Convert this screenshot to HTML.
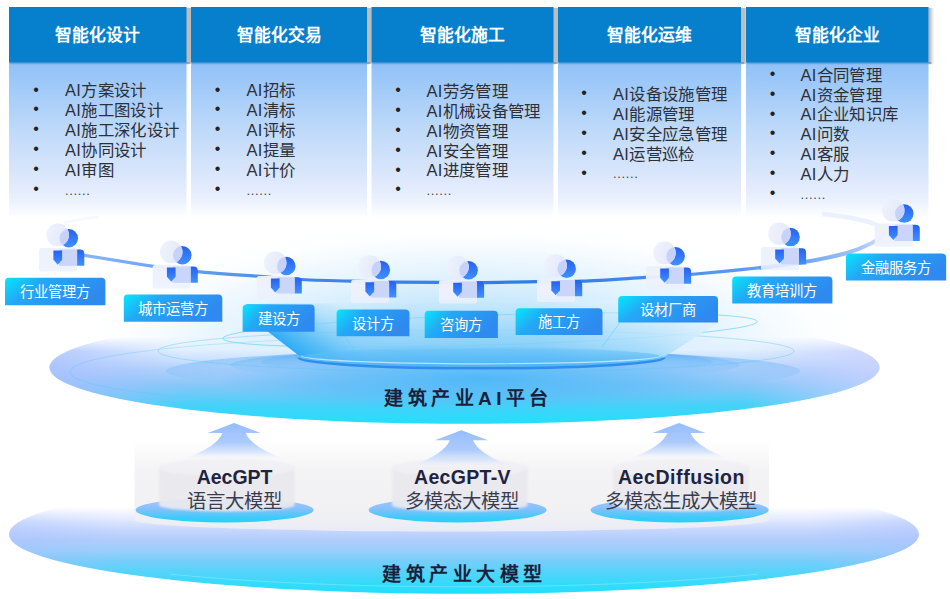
<!DOCTYPE html>
<html lang="zh-CN">
<head>
<meta charset="utf-8">
<title>建筑产业AI平台</title>
<style>
html,body{margin:0;padding:0;background:#fff;}
body{width:950px;height:599px;position:relative;overflow:hidden;font-family:"Liberation Sans",sans-serif;}
#stage{position:absolute;left:0;top:0;width:950px;height:599px;overflow:hidden;}
svg{position:absolute;left:0;top:0;}
.t{position:absolute;white-space:nowrap;}
.hd{color:#fff;font-weight:bold;font-size:16.8px;text-align:center;line-height:20px;height:20px;}
.li{color:#2e3038;font-size:16.45px;letter-spacing:0.33px;line-height:20px;height:20px;}
.bu{color:#222;font-size:16px;line-height:20px;height:20px;width:10px;text-align:center;}
.lb{color:#fff;font-size:14.3px;text-align:center;line-height:20px;height:20px;}
.big{color:#1b1f3a;font-weight:bold;font-size:19px;letter-spacing:4.45px;line-height:24px;height:24px;text-align:center;}
.m1{color:#1f2340;font-weight:bold;font-size:19.5px;line-height:24px;height:24px;text-align:center;}
.m2{color:#3b3d4e;font-size:19.4px;line-height:24px;height:24px;text-align:center;}
</style>
</head>
<body>
<div id="stage">
<svg width="950" height="599" viewBox="0 0 950 599">
<defs>
  <linearGradient id="gBody" x1="0" y1="0" x2="0" y2="1">
    <stop offset="0" stop-color="#8fc1f8"/>
    <stop offset="0.45" stop-color="#c0dafa"/>
    <stop offset="0.76" stop-color="#dde8fc"/>
    <stop offset="0.9" stop-color="#ecf2fd"/>
    <stop offset="1" stop-color="#fdfeff"/>
  </linearGradient>
  <linearGradient id="gShadow" x1="0" y1="0" x2="1" y2="0">
    <stop offset="0" stop-color="#bdbdbd" stop-opacity="1"/>
    <stop offset="0.72" stop-color="#bdbdbd" stop-opacity="1"/>
    <stop offset="1" stop-color="#c8c8c8" stop-opacity="0"/>
  </linearGradient>
  <linearGradient id="gShadowLast" x1="0" y1="0" x2="1" y2="0">
    <stop offset="0" stop-color="#9a9a9a" stop-opacity="0.9"/>
    <stop offset="0.5" stop-color="#b5b5b5" stop-opacity="0.5"/>
    <stop offset="1" stop-color="#c8c8c8" stop-opacity="0"/>
  </linearGradient>
  <linearGradient id="gShadowB" x1="0" y1="0" x2="0" y2="1">
    <stop offset="0" stop-color="#2f66a6" stop-opacity="0.6"/>
    <stop offset="1" stop-color="#2f66a6" stop-opacity="0"/>
  </linearGradient>

  <!-- platform ellipse -->
  <linearGradient id="gPlatV" x1="0" y1="0" x2="0" y2="1">
    <stop offset="0" stop-color="#e8f3ff"/>
    <stop offset="0.345" stop-color="#e0effe"/>
    <stop offset="0.433" stop-color="#cbe0fd"/>
    <stop offset="0.52" stop-color="#b0d1fc"/>
    <stop offset="0.655" stop-color="#88c7f9"/>
    <stop offset="0.744" stop-color="#6acaf8"/>
    <stop offset="0.84" stop-color="#44d2f9"/>
    <stop offset="1" stop-color="#24defb"/>
  </linearGradient>
  <linearGradient id="gPlatMask" gradientUnits="userSpaceOnUse" x1="0" y1="337" x2="0" y2="351">
    <stop offset="0" stop-color="#fff" stop-opacity="0"/>
    <stop offset="0.5" stop-color="#fff" stop-opacity="0.55"/>
    <stop offset="1" stop-color="#fff" stop-opacity="1"/>
  </linearGradient>
  <mask id="mPlat" maskUnits="userSpaceOnUse" x="0" y="300" width="950" height="140">
    <rect x="0" y="305" width="950" height="125" fill="url(#gPlatMask)"/>
  </mask>
  <linearGradient id="gRingC" gradientUnits="userSpaceOnUse" x1="70" y1="0" x2="470" y2="0">
    <stop offset="0" stop-color="#58c6f5" stop-opacity="1"/>
    <stop offset="0.6" stop-color="#58c6f5" stop-opacity="0.6"/>
    <stop offset="1" stop-color="#58c6f5" stop-opacity="0"/>
  </linearGradient>
  <linearGradient id="gBase" x1="0" y1="0" x2="0" y2="1">
    <stop offset="0" stop-color="#6cc4f8" stop-opacity="0.3"/>
    <stop offset="0.5" stop-color="#58baf7" stop-opacity="0.7"/>
    <stop offset="1" stop-color="#48b2f6" stop-opacity="0.9"/>
  </linearGradient>
  <linearGradient id="gBeamR" gradientUnits="userSpaceOnUse" x1="540" y1="0" x2="715" y2="0">
    <stop offset="0" stop-color="#eef8ff" stop-opacity="0"/>
    <stop offset="0.6" stop-color="#eef8ff" stop-opacity="0.35"/>
    <stop offset="1" stop-color="#f2f9ff" stop-opacity="0.7"/>
  </linearGradient>
  <radialGradient id="gHaze" cx="0.5" cy="0.5" r="0.5">
    <stop offset="0" stop-color="#a6dbfa" stop-opacity="0.95"/>
    <stop offset="0.35" stop-color="#bbe3fb" stop-opacity="0.8"/>
    <stop offset="0.7" stop-color="#d8eefd" stop-opacity="0.45"/>
    <stop offset="1" stop-color="#ffffff" stop-opacity="0"/>
  </radialGradient>
  <radialGradient id="gCenterBlue" cx="0.5" cy="0.5" r="0.5">
    <stop offset="0" stop-color="#46b6f7" stop-opacity="0.88"/>
    <stop offset="0.6" stop-color="#4cbaf7" stop-opacity="0.5"/>
    <stop offset="1" stop-color="#50bcf7" stop-opacity="0"/>
  </radialGradient>
  <linearGradient id="gBeamL" gradientUnits="userSpaceOnUse" x1="284" y1="344" x2="325" y2="291">
    <stop offset="0" stop-color="#2eacf6" stop-opacity="1"/>
    <stop offset="0.3" stop-color="#48b7f7" stop-opacity="0.72"/>
    <stop offset="0.7" stop-color="#7fcdf9" stop-opacity="0.25"/>
    <stop offset="1" stop-color="#7fcdf9" stop-opacity="0"/>
  </linearGradient>
  <linearGradient id="gPlatH" x1="0" y1="0" x2="1" y2="0">
    <stop offset="0" stop-color="#a9bfff" stop-opacity="0.75"/>
    <stop offset="0.16" stop-color="#a9bfff" stop-opacity="0"/>
    <stop offset="0.84" stop-color="#c4ceff" stop-opacity="0"/>
    <stop offset="1" stop-color="#c9d2ff" stop-opacity="0.8"/>
  </linearGradient>
  <radialGradient id="gRingFill" cx="0.5" cy="0.95" r="0.95">
    <stop offset="0" stop-color="#45a2f3" stop-opacity="0"/>
    <stop offset="0.5" stop-color="#45a2f3" stop-opacity="0.03"/>
    <stop offset="0.72" stop-color="#45a6f4" stop-opacity="0.18"/>
    <stop offset="1" stop-color="#3fa2f4" stop-opacity="0.46"/>
  </radialGradient>
  <linearGradient id="gBeam" gradientUnits="userSpaceOnUse" x1="0" y1="300" x2="0" y2="368">
    <stop offset="0" stop-color="#b5e1fb" stop-opacity="0"/>
    <stop offset="0.4" stop-color="#9bd7fa" stop-opacity="0.65"/>
    <stop offset="0.75" stop-color="#74c8f8" stop-opacity="0.9"/>
    <stop offset="1" stop-color="#62bff7" stop-opacity="0.95"/>
  </linearGradient>
  <radialGradient id="gGlow" cx="0.5" cy="0.5" r="0.5">
    <stop offset="0" stop-color="#d8f1ff" stop-opacity="1"/>
    <stop offset="0.6" stop-color="#e6f5ff" stop-opacity="0.7"/>
    <stop offset="1" stop-color="#ffffff" stop-opacity="0"/>
  </radialGradient>

  <!-- bottom ellipse -->
  <linearGradient id="gBotMask" gradientUnits="userSpaceOnUse" x1="0" y1="507" x2="0" y2="521">
    <stop offset="0" stop-color="#fff" stop-opacity="0"/>
    <stop offset="0.5" stop-color="#fff" stop-opacity="0.55"/>
    <stop offset="1" stop-color="#fff" stop-opacity="1"/>
  </linearGradient>
  <mask id="mBot" maskUnits="userSpaceOnUse" x="0" y="470" width="950" height="130">
    <rect x="0" y="470" width="950" height="130" fill="url(#gBotMask)"/>
  </mask>
  <linearGradient id="gBotH" x1="0" y1="0" x2="1" y2="0">
    <stop offset="0" stop-color="#a8c0ff" stop-opacity="0.4"/>
    <stop offset="0.12" stop-color="#a8c0ff" stop-opacity="0"/>
    <stop offset="0.88" stop-color="#a8c0ff" stop-opacity="0"/>
    <stop offset="1" stop-color="#a8c0ff" stop-opacity="0.45"/>
  </linearGradient>
  <linearGradient id="gBotV" x1="0" y1="0" x2="0" y2="1">
    <stop offset="0" stop-color="#e8eeff"/>
    <stop offset="0.38" stop-color="#e0e8fe"/>
    <stop offset="0.464" stop-color="#c6d6fe"/>
    <stop offset="0.548" stop-color="#b0ccfc"/>
    <stop offset="0.632" stop-color="#9ccefb"/>
    <stop offset="0.716" stop-color="#79cdfa"/>
    <stop offset="0.80" stop-color="#5bd2fa"/>
    <stop offset="0.90" stop-color="#38dafb"/>
    <stop offset="1" stop-color="#1fe0fc"/>
  </linearGradient>

  <!-- labels -->
  <linearGradient id="gLabel" x1="0" y1="0" x2="1" y2="0.35">
    <stop offset="0" stop-color="#06e6fb"/>
    <stop offset="0.35" stop-color="#24a8f6"/>
    <stop offset="1" stop-color="#2e8af0"/>
  </linearGradient>

  <!-- curve -->
  <linearGradient id="gCurve" gradientUnits="userSpaceOnUse" x1="60" y1="0" x2="890" y2="0">
    <stop offset="0" stop-color="#8fbcf9"/>
    <stop offset="0.12" stop-color="#6ba4f4"/>
    <stop offset="0.3" stop-color="#3d86ec"/>
    <stop offset="0.6" stop-color="#2f7ce8"/>
    <stop offset="0.82" stop-color="#5b9af2"/>
    <stop offset="0.93" stop-color="#8db9f7"/>
    <stop offset="1" stop-color="#c5dbfb"/>
  </linearGradient>

  <linearGradient id="gCurveR" gradientUnits="userSpaceOnUse" x1="780" y1="0" x2="886" y2="0">
    <stop offset="0" stop-color="#5b9af2"/>
    <stop offset="0.3" stop-color="#76abf4"/>
    <stop offset="0.75" stop-color="#a3c5f8"/>
    <stop offset="1" stop-color="#d3e2fb"/>
  </linearGradient>
  <!-- icon -->
  <linearGradient id="gIcBlue" x1="0" y1="0" x2="0" y2="1">
    <stop offset="0" stop-color="#2760f0"/>
    <stop offset="1" stop-color="#3f92ff"/>
  </linearGradient>
  <clipPath id="cHead"><circle cx="18.6" cy="-13.2" r="11.3"/></clipPath>
  <clipPath id="cBody"><rect x="0" y="0" width="38" height="23.3" rx="2.6"/></clipPath>
  <linearGradient id="gIcLight" x1="0" y1="0" x2="0" y2="1">
    <stop offset="0" stop-color="#eef1fc" stop-opacity="0.97"/>
    <stop offset="0.7" stop-color="#edf1fc" stop-opacity="0.95"/>
    <stop offset="1" stop-color="#eaf1fc" stop-opacity="0.8"/>
  </linearGradient>
  <linearGradient id="gIcHead" x1="0" y1="0" x2="1" y2="0.3">
    <stop offset="0" stop-color="#f0f3fd" stop-opacity="0.97"/>
    <stop offset="1" stop-color="#e3e8fa" stop-opacity="0.97"/>
  </linearGradient>
  <g id="icon">
    <circle cx="29.7" cy="-9.9" r="9.25" fill="url(#gIcBlue)"/>
    <path d="M20 1.3 H41 Q45.2 1.3 45.2 5.5 V17.6 H20 Z" fill="url(#gIcBlue)"/>
    <circle cx="18.6" cy="-13.2" r="11.3" fill="url(#gIcHead)"/>
    <circle cx="29.7" cy="-9.9" r="9.25" fill="#c6d2f9" clip-path="url(#cHead)"/>
    <rect x="0" y="0" width="38" height="23.3" rx="2.6" fill="url(#gIcLight)"/>
    <path d="M20 1.3 H41 Q45.2 1.3 45.2 5.5 V17.6 H20 Z" fill="#c9d5f9" clip-path="url(#cBody)"/>
    <path d="M14.3 2.5 H23 V11.6 L18.65 16.6 L14.3 11.6 Z" fill="url(#gIcBlue)"/>
  </g>

  <!-- arrow -->
  <linearGradient id="gArrow" x1="0" y1="0" x2="0" y2="1">
    <stop offset="0" stop-color="#94bdfd"/>
    <stop offset="0.55" stop-color="#a8c8fc" stop-opacity="0.95"/>
    <stop offset="0.82" stop-color="#c4d9fd" stop-opacity="0.6"/>
    <stop offset="1" stop-color="#e6eeff" stop-opacity="0"/>
  </linearGradient>
  <g id="arrow">
    <path d="M0 0 L26.5 10 L11.6 10 Q17 23.8 50 35.8 L-50 35.8 Q-17 23.8 -11.6 10 L-26.5 10 Z" fill="url(#gArrow)"/>
  </g>

  <!-- small ellipse -->
  <linearGradient id="gSmall" x1="0" y1="0" x2="0" y2="1">
    <stop offset="0" stop-color="#a9c6fe"/>
    <stop offset="0.45" stop-color="#86c0fb"/>
    <stop offset="0.8" stop-color="#3fcaf9"/>
    <stop offset="1" stop-color="#20d4f9"/>
  </linearGradient>
  <linearGradient id="gBoxOuter" gradientUnits="userSpaceOnUse" x1="0" y1="434" x2="0" y2="532">
    <stop offset="0.06" stop-color="#f4f4f6" stop-opacity="0"/>
    <stop offset="0.21" stop-color="#f3f3f5" stop-opacity="0.45"/>
    <stop offset="0.37" stop-color="#f2f2f4" stop-opacity="0.9"/>
    <stop offset="0.85" stop-color="#f0f0f3" stop-opacity="0.93"/>
    <stop offset="1" stop-color="#edeff5" stop-opacity="0.88"/>
  </linearGradient>
  <linearGradient id="gBoxInner" x1="0" y1="0" x2="0" y2="1">
    <stop offset="0" stop-color="#ebebee" stop-opacity="0"/>
    <stop offset="0.3" stop-color="#eaeaed" stop-opacity="0.92"/>
    <stop offset="1" stop-color="#e9e9ee" stop-opacity="0.92"/>
  </linearGradient>
  <filter id="hdrShadow" x="-5%" y="-15%" width="112%" height="135%"><feDropShadow dx="2" dy="0.6" stdDeviation="1.7" flood-color="#000" flood-opacity="0.5"/></filter>
  <filter id="blur1" x="-10%" y="-10%" width="120%" height="120%"><feGaussianBlur stdDeviation="1.2"/></filter>
  <filter id="blur2" x="-10%" y="-10%" width="120%" height="120%"><feGaussianBlur stdDeviation="1.8"/></filter>
  <filter id="blur6" x="-20%" y="-20%" width="140%" height="140%"><feGaussianBlur stdDeviation="6"/></filter>
</defs>

<rect x="9.0" y="62" width="177.5" height="155.0" fill="url(#gBody)"/>
<rect x="185.5" y="7.8" width="7" height="56.1" fill="url(#gShadow)"/>
<rect x="10.0" y="62.3" width="179.5" height="2.6" fill="url(#gShadowB)"/>
<rect x="9.0" y="7.0" width="177.5" height="55.5" fill="#0680cd"/>
<rect x="191.0" y="62" width="176.0" height="155.0" fill="url(#gBody)"/>
<rect x="366.0" y="7.8" width="7" height="56.1" fill="url(#gShadow)"/>
<rect x="192.0" y="62.3" width="178.0" height="2.6" fill="url(#gShadowB)"/>
<rect x="191.0" y="7.0" width="176.0" height="55.5" fill="#0680cd"/>
<rect x="371.5" y="62" width="182.0" height="155.0" fill="url(#gBody)"/>
<rect x="552.5" y="7.8" width="7" height="56.1" fill="url(#gShadow)"/>
<rect x="372.5" y="62.3" width="184.0" height="2.6" fill="url(#gShadowB)"/>
<rect x="371.5" y="7.0" width="182.0" height="55.5" fill="#0680cd"/>
<rect x="558.0" y="62" width="183.0" height="155.0" fill="url(#gBody)"/>
<rect x="740.0" y="7.8" width="7" height="56.1" fill="url(#gShadow)"/>
<rect x="559.0" y="62.3" width="185.0" height="2.6" fill="url(#gShadowB)"/>
<rect x="558.0" y="7.0" width="183.0" height="55.5" fill="#0680cd"/>
<rect x="746.0" y="62" width="182.5" height="155.0" fill="url(#gBody)"/>
<rect x="928.5" y="7.8" width="6" height="56.1" fill="url(#gShadowLast)"/>
<rect x="747.0" y="62.3" width="184.5" height="2.6" fill="url(#gShadowB)"/>
<rect x="746.0" y="7.0" width="182.5" height="55.5" fill="#0680cd"/>
<clipPath id="cHaze"><rect x="0" y="0" width="950" height="367"/><ellipse cx="464.5" cy="367.5" rx="414" ry="55.3"/></clipPath>
<ellipse cx="472" cy="345" rx="400" ry="125" fill="url(#gHaze)" clip-path="url(#cHaze)"/>
<g mask="url(#mPlat)">
<ellipse cx="464.5" cy="367.5" rx="415.0" ry="56.3" fill="url(#gPlatV)"/>
<ellipse cx="464.5" cy="367.5" rx="415.0" ry="56.3" fill="url(#gPlatH)"/>
<ellipse cx="481" cy="379" rx="265" ry="32" fill="url(#gCenterBlue)"/>
</g>
<ellipse cx="483" cy="371" rx="317" ry="21" fill="url(#gRingFill)"/>
<ellipse cx="485" cy="365" rx="255" ry="16" fill="url(#gRingFill)"/>
<ellipse cx="487" cy="362" rx="226" ry="13" fill="url(#gRingFill)"/>
<path d="M470 336 A400 36 0 0 0 470 408" fill="none" stroke="url(#gRingC)" stroke-width="0.8" opacity="0.5"/>
<ellipse cx="476" cy="351" rx="318" ry="21" fill="none" stroke="#58c6f5" stroke-width="0.8" opacity="0.5"/>
<ellipse cx="490" cy="330" rx="267.5" ry="15" transform="rotate(-1.8 490 330)" fill="none" stroke="#4cc6f6" stroke-width="0.9" opacity="0.6"/>
<path d="M246 304 L268.4 332 L299.5 356 A183 10.5 0 0 0 664 357 L718 322.5 L718 300 Z" fill="url(#gBeam)"/>
<path d="M246 304 L268.4 332 L299.5 356 A183 10.5 0 0 0 664 357 L718 322.5 L718 300 Z" fill="url(#gBeamL)"/>
<path d="M246 304 L268.4 332 L299.5 356 A183 10.5 0 0 0 664 357 L718 322.5 L718 300 Z" fill="url(#gBeamR)"/>
<path d="M344.7 336 L360.5 359" stroke="#5fd0f8" stroke-width="0.8" opacity="0.7"/>
<path d="M620 322.6 L602 347" stroke="#5fd0f8" stroke-width="0.8" opacity="0.7"/>
<ellipse cx="481.5" cy="357.5" rx="182" ry="10.5" fill="url(#gBase)"/>
<path d="M298.5 357.5 A182.5 10.8 0 0 0 664.5 357.5" fill="none" stroke="#2a8af0" stroke-width="2.5" opacity="0.95"/>
<path d="M301 355.5 A180 8.3 0 0 0 661 355.5" fill="none" stroke="#c4e8fc" stroke-width="1.3" opacity="0.9"/>
<path d="M64 223 C 70 221 80 219 98 217" fill="none" stroke="#e9f0fc" stroke-width="3" opacity="0.4"/>
<path d="M884 236 C 886 224 866 219 822 214" fill="none" stroke="#e6eefc" stroke-width="4.5" opacity="0.8"/>
<path d="M62.0 251.0 C65.0 251.6 64.7 252.1 80.0 254.7 C95.3 257.2 134.2 263.5 153.7 266.3 C173.2 269.1 179.6 270.0 196.8 271.6 C214.0 273.2 239.4 274.9 256.8 276.2 C274.2 277.5 285.2 278.7 301.0 279.5 C316.8 280.3 335.8 280.8 351.6 281.2 C367.4 281.6 381.2 282.0 395.8 282.2 C410.4 282.4 425.0 282.3 439.0 282.4 C453.0 282.5 463.7 282.7 480.0 282.6 C496.3 282.5 519.8 281.8 536.8 281.6 C553.8 281.4 563.9 281.9 582.0 281.2 C600.1 280.5 627.3 278.5 645.3 277.4 C663.3 276.3 670.8 276.1 690.0 274.5 C709.2 272.9 741.6 269.8 760.8 267.7 C780.0 265.6 797.6 262.9 805.0 261.9" fill="none" stroke="url(#gCurve)" stroke-width="3.2" stroke-linecap="round"/>
<path d="M760.8 267.7 C768.2 266.7 790.7 264.3 805.0 261.9 C819.3 259.4 835.6 256.1 846.8 253.0 C858.0 249.8 865.5 246.3 872.0 243.0 C878.5 239.7 883.7 234.7 886.0 233.0" fill="none" stroke="url(#gCurveR)" stroke-width="4" stroke-linecap="round"/>
<path d="M5.0 281.7 Q5.0 277.7 9.0 277.7 H101.4 Q105.4 277.7 105.4 281.7 V305.2 H5.0 Z" fill="url(#gLabel)"/>
<path d="M123.8 298.6 Q123.8 294.6 127.8 294.6 H218.3 Q222.3 294.6 222.3 298.6 V321.7 H123.8 Z" fill="url(#gLabel)"/>
<path d="M242.6 308.5 Q242.6 304.5 246.6 304.5 H310.6 Q314.6 304.5 314.6 308.5 V331.8 H242.6 Z" fill="url(#gLabel)"/>
<path d="M336.6 313.6 Q336.6 309.6 340.6 309.6 H405.4 Q409.4 309.6 409.4 313.6 V336.3 H336.6 Z" fill="url(#gLabel)"/>
<path d="M424.7 314.8 Q424.7 310.8 428.7 310.8 H493.9 Q497.9 310.8 497.9 314.8 V337.9 H424.7 Z" fill="url(#gLabel)"/>
<path d="M515.6 312.3 Q515.6 308.3 519.6 308.3 H598.5 Q602.5 308.3 602.5 312.3 V334.9 H515.6 Z" fill="url(#gLabel)"/>
<path d="M618.2 300.0 Q618.2 296.0 622.2 296.0 H714.0 Q718.0 296.0 718.0 300.0 V322.6 H618.2 Z" fill="url(#gLabel)"/>
<path d="M732.2 280.6 Q732.2 276.6 736.2 276.6 H828.4 Q832.4 276.6 832.4 280.6 V303.5 H732.2 Z" fill="url(#gLabel)"/>
<path d="M846.0 257.5 Q846.0 253.5 850.0 253.5 H942.2 Q946.2 253.5 946.2 257.5 V280.4 H846.0 Z" fill="url(#gLabel)"/>
<use href="#icon" x="39.1" y="248.1"/>
<use href="#icon" x="152.6" y="265.1"/>
<use href="#icon" x="256.6" y="275.9"/>
<use href="#icon" x="351.1" y="279.8"/>
<use href="#icon" x="438.9" y="280.2"/>
<use href="#icon" x="537.0" y="278.7"/>
<use href="#icon" x="645.9" y="266.1"/>
<use href="#icon" x="760.9" y="247.0"/>
<use href="#icon" x="874.6" y="223.5"/>
<g mask="url(#mBot)">
<ellipse cx="464.0" cy="534.3" rx="455.0" ry="59.5" fill="url(#gBotV)"/>
<ellipse cx="464.0" cy="534.3" rx="455.0" ry="59.5" fill="url(#gBotH)"/>
</g>
<path d="M170 574.2 A452 52.5 0 0 0 758 574.2" fill="none" stroke="#a5ecfd" stroke-width="0.9" opacity="0.5"/>
<path d="M134.5 432 L769 432 L769 520 A317.2 11.5 0 0 1 134.5 520 Z" fill="url(#gBoxOuter)"/>
<ellipse cx="224.6" cy="510" rx="89" ry="12.5" fill="url(#gSmall)"/>
<g filter="url(#blur1)">
<path d="M159.0 467 L294.6 467 L294.6 505 A67.8 6.5 0 0 1 159.0 505 Z" fill="#eaeaee" fill-opacity="0.93"/>
<ellipse cx="226.8" cy="467.5" rx="67.8" ry="9" fill="#f1f1f5" fill-opacity="0.9"/>
</g>
<use href="#arrow" x="234.1" y="423.1"/>
<ellipse cx="457.6" cy="510" rx="89" ry="12.5" fill="url(#gSmall)"/>
<g filter="url(#blur1)">
<path d="M392.0 467 L527.6 467 L527.6 505 A67.8 6.5 0 0 1 392.0 505 Z" fill="#eaeaee" fill-opacity="0.93"/>
<ellipse cx="459.8" cy="467.5" rx="67.8" ry="9" fill="#f1f1f5" fill-opacity="0.9"/>
</g>
<use href="#arrow" x="461.4" y="430.3"/>
<ellipse cx="679.6" cy="510" rx="89" ry="12.5" fill="url(#gSmall)"/>
<g filter="url(#blur1)">
<path d="M613.2 467 L748.8 467 L748.8 505 A67.8 6.5 0 0 1 613.2 505 Z" fill="#eaeaee" fill-opacity="0.93"/>
<ellipse cx="681.0" cy="467.5" rx="67.8" ry="9" fill="#f1f1f5" fill-opacity="0.9"/>
</g>
<use href="#arrow" x="679.0" y="422.9"/>
</svg>
<div class="t hd" style="left:9.0px;top:25.8px;width:177.5px">智能化设计</div>
<div class="t bu" style="left:31.0px;top:79.6px">&#8226;</div>
<div class="t li" style="left:65.0px;top:80.4px">AI方案设计</div>
<div class="t bu" style="left:31.0px;top:99.4px">&#8226;</div>
<div class="t li" style="left:65.0px;top:100.2px">AI施工图设计</div>
<div class="t bu" style="left:31.0px;top:119.3px">&#8226;</div>
<div class="t li" style="left:65.0px;top:120.1px">AI施工深化设计</div>
<div class="t bu" style="left:31.0px;top:139.2px">&#8226;</div>
<div class="t li" style="left:65.0px;top:140.0px">AI协同设计</div>
<div class="t bu" style="left:31.0px;top:159.0px">&#8226;</div>
<div class="t li" style="left:65.0px;top:159.8px">AI审图</div>
<div class="t bu" style="left:31.0px;top:178.8px">&#8226;</div>
<div class="t li" style="left:65.0px;top:180.8px;font-size:13px;letter-spacing:0.65px;color:#444">......</div>
<div class="t hd" style="left:191.0px;top:25.8px;width:176.0px">智能化交易</div>
<div class="t bu" style="left:212.5px;top:79.6px">&#8226;</div>
<div class="t li" style="left:246.5px;top:80.4px">AI招标</div>
<div class="t bu" style="left:212.5px;top:99.4px">&#8226;</div>
<div class="t li" style="left:246.5px;top:100.2px">AI清标</div>
<div class="t bu" style="left:212.5px;top:119.3px">&#8226;</div>
<div class="t li" style="left:246.5px;top:120.1px">AI评标</div>
<div class="t bu" style="left:212.5px;top:139.2px">&#8226;</div>
<div class="t li" style="left:246.5px;top:140.0px">AI提量</div>
<div class="t bu" style="left:212.5px;top:159.0px">&#8226;</div>
<div class="t li" style="left:246.5px;top:159.8px">AI计价</div>
<div class="t bu" style="left:212.5px;top:178.8px">&#8226;</div>
<div class="t li" style="left:246.5px;top:180.8px;font-size:13px;letter-spacing:0.65px;color:#444">......</div>
<div class="t hd" style="left:371.5px;top:25.8px;width:182.0px">智能化施工</div>
<div class="t bu" style="left:393.0px;top:80.1px">&#8226;</div>
<div class="t li" style="left:426.5px;top:80.9px">AI劳务管理</div>
<div class="t bu" style="left:393.0px;top:99.9px">&#8226;</div>
<div class="t li" style="left:426.5px;top:100.8px">AI机械设备管理</div>
<div class="t bu" style="left:393.0px;top:119.8px">&#8226;</div>
<div class="t li" style="left:426.5px;top:120.6px">AI物资管理</div>
<div class="t bu" style="left:393.0px;top:139.7px">&#8226;</div>
<div class="t li" style="left:426.5px;top:140.5px">AI安全管理</div>
<div class="t bu" style="left:393.0px;top:159.5px">&#8226;</div>
<div class="t li" style="left:426.5px;top:160.3px">AI进度管理</div>
<div class="t bu" style="left:393.0px;top:179.3px">&#8226;</div>
<div class="t li" style="left:426.5px;top:181.2px;font-size:13px;letter-spacing:0.65px;color:#444">......</div>
<div class="t hd" style="left:558.0px;top:25.8px;width:183.0px">智能化运维</div>
<div class="t bu" style="left:579.0px;top:83.1px">&#8226;</div>
<div class="t li" style="left:613.0px;top:83.9px">AI设备设施管理</div>
<div class="t bu" style="left:579.0px;top:102.9px">&#8226;</div>
<div class="t li" style="left:613.0px;top:103.8px">AI能源管理</div>
<div class="t bu" style="left:579.0px;top:122.8px">&#8226;</div>
<div class="t li" style="left:613.0px;top:123.6px">AI安全应急管理</div>
<div class="t bu" style="left:579.0px;top:142.7px">&#8226;</div>
<div class="t li" style="left:613.0px;top:143.5px">AI运营巡检</div>
<div class="t bu" style="left:579.0px;top:162.5px">&#8226;</div>
<div class="t li" style="left:613.0px;top:164.4px;font-size:13px;letter-spacing:0.65px;color:#444">......</div>
<div class="t hd" style="left:746.0px;top:25.8px;width:182.5px">智能化企业</div>
<div class="t bu" style="left:767.5px;top:63.8px">&#8226;</div>
<div class="t li" style="left:800.5px;top:64.6px">AI合同管理</div>
<div class="t bu" style="left:767.5px;top:83.7px">&#8226;</div>
<div class="t li" style="left:800.5px;top:84.5px">AI资金管理</div>
<div class="t bu" style="left:767.5px;top:103.5px">&#8226;</div>
<div class="t li" style="left:800.5px;top:104.3px">AI企业知识库</div>
<div class="t bu" style="left:767.5px;top:123.3px">&#8226;</div>
<div class="t li" style="left:800.5px;top:124.2px">AI问数</div>
<div class="t bu" style="left:767.5px;top:143.2px">&#8226;</div>
<div class="t li" style="left:800.5px;top:144.0px">AI客服</div>
<div class="t bu" style="left:767.5px;top:163.0px">&#8226;</div>
<div class="t li" style="left:800.5px;top:163.8px">AI人力</div>
<div class="t bu" style="left:767.5px;top:182.9px">&#8226;</div>
<div class="t li" style="left:800.5px;top:184.8px;font-size:13px;letter-spacing:0.65px;color:#444">......</div>
<div class="t lb" style="left:5.0px;top:282.1px;width:100.4px">行业管理方</div>
<div class="t lb" style="left:123.8px;top:298.8px;width:98.5px">城市运营方</div>
<div class="t lb" style="left:242.6px;top:308.8px;width:72.0px">建设方</div>
<div class="t lb" style="left:336.6px;top:313.7px;width:72.8px">设计方</div>
<div class="t lb" style="left:424.7px;top:315.1px;width:73.2px">咨询方</div>
<div class="t lb" style="left:515.6px;top:312.3px;width:86.9px">施工方</div>
<div class="t lb" style="left:618.2px;top:300.0px;width:99.8px">设材厂商</div>
<div class="t lb" style="left:732.2px;top:280.8px;width:100.2px">教育培训方</div>
<div class="t lb" style="left:846.0px;top:257.6px;width:100.2px">金融服务方</div>
<div class="t big" style="left:268.5px;top:386.5px;width:400px">建筑产业AI平台</div>
<div class="t big" style="left:264.5px;top:562.5px;width:400px">建筑产业大模型</div>
<div class="t m1" style="left:114.6px;top:465px;width:240px;letter-spacing:0.00px">AecGPT</div>
<div class="t m2" style="left:114.6px;top:488.7px;width:240px">语言大模型</div>
<div class="t m1" style="left:342.4px;top:465px;width:240px;letter-spacing:0.30px">AecGPT-V</div>
<div class="t m2" style="left:342.3px;top:488.7px;width:240px">多模态大模型</div>
<div class="t m1" style="left:561.5px;top:465px;width:240px;letter-spacing:0.58px">AecDiffusion</div>
<div class="t m2" style="left:561.2px;top:488.7px;width:240px">多模态生成大模型</div>
</div>
</body>
</html>
